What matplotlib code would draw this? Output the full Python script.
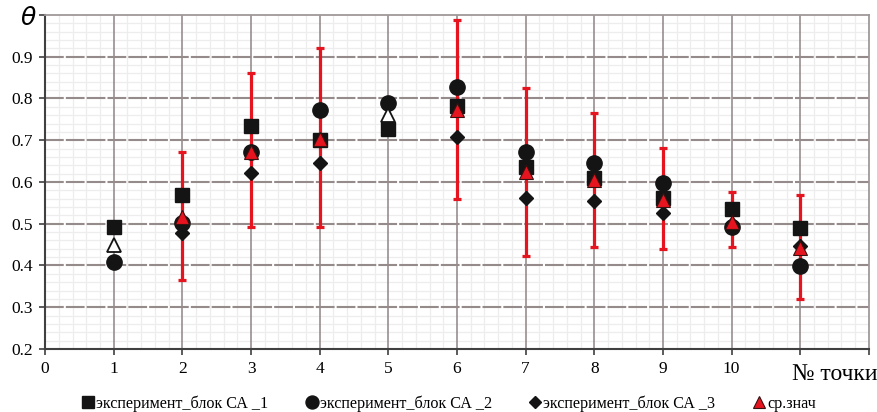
import numpy as np
import matplotlib.pyplot as plt
from matplotlib.ticker import MultipleLocator

plt.rcParams['font.family'] = ['Liberation Serif', 'DejaVu Serif']

points = [1, 2, 3, 4, 5, 6, 7, 8, 9, 10, 11]
blok1 = [0.492, 0.569, 0.733, 0.701, 0.727, 0.781, 0.636, 0.610, 0.562, 0.536, 0.490]
blok2 = [0.408, 0.502, 0.672, 0.773, 0.790, 0.828, 0.672, 0.646, 0.598, 0.493, 0.399]
blok3 = [np.nan, 0.478, 0.622, 0.646, np.nan, 0.708, 0.562, 0.555, 0.526, 0.500, 0.447]
mean = [0.450, 0.517, 0.672, 0.703, 0.761, 0.773, 0.624, 0.605, 0.557, 0.505, 0.442]
err_lo = [np.nan, 0.365, 0.493, 0.492, np.nan, 0.560, 0.423, 0.445, 0.440, 0.445, 0.320]
err_hi = [np.nan, 0.672, 0.862, 0.922, np.nan, 0.987, 0.826, 0.764, 0.682, 0.575, 0.569]
xtick_labels = ['0', '1', '2', '3', '4', '5', '6', '7', '8', '9', '10', '', '']
ytick_labels = ['0.2', '0.3', '0.4', '0.5', '0.6', '0.7', '0.8', '0.9', '']

x = np.array(points)
m = np.array(mean)
lo = np.array(err_lo)
hi = np.array(err_hi)
has_err = ~np.isnan(lo)

fig = plt.figure(figsize=(8.78, 4.12), dpi=100)
ax = fig.add_axes([0.0513, 0.153, 0.9384, 0.8107])

ax.set_xlim(0, 12)
ax.set_ylim(0.2, 1.0)
ax.xaxis.set_minor_locator(MultipleLocator(0.2))
ax.yaxis.set_minor_locator(MultipleLocator(0.02))
xt = np.arange(13)
yt = np.arange(0.2, 1.01, 0.1)
ax.set_xticks(xt)
ax.set_xticklabels(xtick_labels)
ax.set_yticks(yt)
ax.set_yticklabels(ytick_labels)

# light minor grid, major lines drawn on top of it
ax.grid(which='minor', color='#ededed', linewidth=0.9)
ax.set_axisbelow(True)
for xv in xt[1:-1]:
    ax.axvline(xv, color='#8f8585', linewidth=1.1, zorder=1)
for yv in yt[1:-1]:
    ax.axhline(yv, color='#958b8b', linewidth=1.5, linestyle=(0, (9, 1)), zorder=1)

for s in ['top', 'right']:
    ax.spines[s].set_color('#a09898')
    ax.spines[s].set_linewidth(1.3)
for s in ['left', 'bottom']:
    ax.spines[s].set_color('#404040')
    ax.spines[s].set_linewidth(1.5)

ax.tick_params(which='major', length=4, width=1.2, color='#404040', labelsize=12.5, pad=5)
ax.tick_params(which='minor', length=0)

ax.errorbar(x[has_err], m[has_err],
            yerr=[m[has_err] - lo[has_err], hi[has_err] - m[has_err]],
            fmt='none', ecolor='#e6141e', elinewidth=2.3, capsize=3.2, capthick=2.3, zorder=2)

ax.plot(x, blok3, linestyle='none', marker='D', markersize=7.5, color='#141414', zorder=3,
        label='эксперимент_блок СА _3')
ax.plot(x, blok1, linestyle='none', marker='s', markersize=10.5, color='#141414', zorder=4,
        label='эксперимент_блок СА _1')
ax.plot(x, blok2, linestyle='none', marker='o', markersize=11, color='#141414', zorder=4,
        label='эксперимент_блок СА _2')
ax.plot(x[has_err], m[has_err], linestyle='none', marker='^', markersize=9.5,
        markerfacecolor='#e6141e', markeredgecolor='#3a1010', markeredgewidth=0.8, zorder=5,
        label='ср.знач')
ax.plot(x[~has_err], m[~has_err], linestyle='none', marker='^', markersize=10,
        markerfacecolor='white', markeredgecolor='#141414', markeredgewidth=1.3, zorder=5)

h, l = ax.get_legend_handles_labels()
order = [1, 2, 0, 3]
fig.legend([h[i] for i in order], [l[i] for i in order], loc='lower center',
           bbox_to_anchor=(0.51, -0.035), ncol=4, frameon=False, fontsize=11.6,
           handletextpad=0.0, columnspacing=2.2, handlelength=1.0, markerscale=0.85)

fig.text(0.032, 0.955, r'$\theta$', fontsize=18, ha='center', va='center')
fig.text(0.999, 0.09, '№ точки', fontsize=17, ha='right', va='center')

fig.savefig('out.png', dpi=100)
